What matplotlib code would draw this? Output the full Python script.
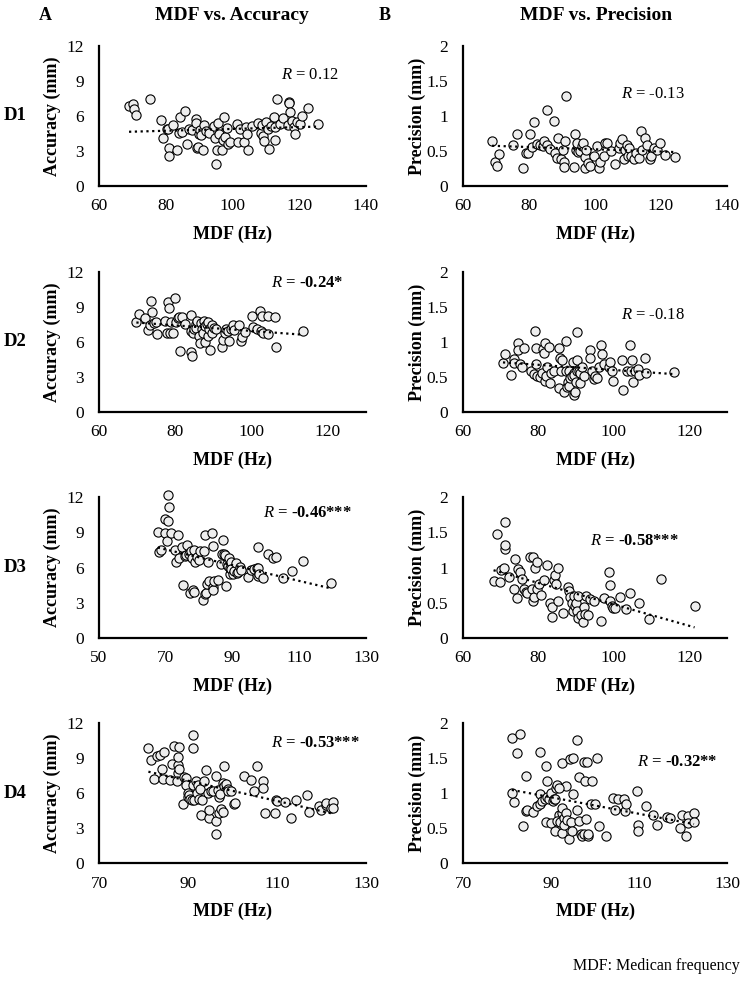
import matplotlib
matplotlib.use("Agg")
import matplotlib.pyplot as plt
import numpy as np

plt.rcParams['font.family'] = ['Liberation Serif', 'DejaVu Serif']
plt.rcParams['mathtext.fontset'] = 'custom'
plt.rcParams['mathtext.rm'] = 'Liberation Serif'
plt.rcParams['mathtext.it'] = 'Liberation Serif:italic'

# (MDF Hz, value)
d1_acc = [(69.0, 6.89), (70.1, 7.0), (70.4, 6.6), (71.1, 6.11), (75.2, 7.43), (78.6, 5.66), (79.3, 4.09),
          (80.3, 4.89), (80.8, 4.86), (81.0, 3.23), (81.1, 2.6), (82.1, 5.2), (83.4, 3.09), (84.1, 4.57),
          (84.4, 5.94), (84.9, 4.63), (85.9, 6.4), (86.3, 3.6), (87.0, 4.89), (88.0, 4.77), (89.0, 5.74),
          (89.0, 5.37), (89.3, 3.23), (89.7, 3.37), (90.1, 4.46), (90.4, 4.8), (90.6, 4.34), (91.1, 3.06),
          (91.6, 5.23), (92.1, 4.71), (93.1, 4.57), (94.4, 5.14), (94.7, 4.09), (95.2, 1.86), (95.4, 3.09),
          (95.7, 5.37), (96.0, 4.46), (97.0, 3.09), (97.2, 3.94), (97.6, 5.94), (97.8, 4.17), (98.3, 5.0),
          (98.8, 3.6), (99.3, 3.8), (101.3, 5.31), (101.7, 3.77), (102.1, 4.86), (103.4, 3.8), (103.9, 5.03),
          (104.4, 4.43), (104.6, 3.09), (105.9, 5.14), (107.5, 5.43), (108.5, 4.51), (108.7, 5.2),
          (109.1, 4.29), (109.3, 3.86), (110.1, 5.46), (110.6, 4.86), (110.9, 3.2), (111.6, 5.14),
          (112.3, 5.94), (112.6, 5.03), (112.8, 3.94), (113.4, 7.43), (114.2, 5.31), (115.2, 5.8),
          (116.5, 5.26), (116.9, 7.23), (117.0, 7.09), (117.2, 6.34), (117.7, 5.57), (118.3, 5.03),
          (118.8, 4.46), (119.3, 5.51), (120.3, 5.31), (120.8, 6.0), (122.7, 6.66), (125.6, 5.31)]

d1_prec = [(68.8, 0.65), (69.7, 0.34), (70.4, 0.29), (71.0, 0.46), (75.2, 0.58), (76.5, 0.75), (78.3, 0.26),
           (79.0, 0.47), (79.6, 0.47), (80.3, 0.75), (80.8, 0.56), (81.6, 0.91), (82.5, 0.6), (83.4, 0.59),
           (84.2, 0.57), (84.6, 0.64), (85.4, 1.09), (85.6, 0.58), (86.4, 0.53), (87.7, 0.93), (87.9, 0.47),
           (88.4, 0.4), (88.9, 0.68), (89.6, 0.39), (90.3, 0.52), (90.5, 0.34), (90.5, 0.27), (90.8, 0.64),
           (91.3, 1.28), (93.5, 0.27), (93.8, 0.75), (94.3, 0.52), (94.5, 0.62), (94.8, 0.48), (95.5, 0.5),
           (96.0, 0.57), (96.5, 0.62), (96.9, 0.42), (97.1, 0.26), (97.2, 0.52), (97.8, 0.33), (98.4, 0.28),
           (99.6, 0.43), (100.6, 0.57), (101.1, 0.26), (101.6, 0.34), (102.6, 0.43), (103.1, 0.61),
           (103.7, 0.62), (104.9, 0.5), (106.2, 0.31), (107.2, 0.54), (107.7, 0.62), (108.2, 0.67),
           (108.7, 0.38), (109.0, 0.52), (109.7, 0.59), (109.9, 0.43), (110.4, 0.54), (110.8, 0.43),
           (111.8, 0.39), (112.3, 0.47), (113.3, 0.4), (113.8, 0.79), (114.3, 0.52), (115.3, 0.69),
           (115.8, 0.58), (116.6, 0.38), (117.1, 0.43), (117.9, 0.55), (118.9, 0.52), (119.7, 0.62),
           (121.1, 0.45), (124.2, 0.42)]

d2_acc = [(69.8, 7.69), (70.5, 8.42), (72.0, 8.06), (72.8, 7.03), (73.5, 7.5), (73.7, 9.5), (73.9, 8.56),
          (74.5, 7.61), (74.9, 7.69), (75.3, 6.67), (77.3, 7.83), (77.7, 6.81), (78.1, 9.44), (78.4, 8.89),
          (78.5, 6.81), (78.9, 7.69), (79.4, 6.81), (79.8, 9.78), (80.2, 7.69), (80.6, 8.06), (80.9, 8.11),
          (81.2, 5.22), (81.7, 8.11), (82.5, 7.58), (84.0, 6.94), (84.2, 8.28), (84.2, 5.11), (84.4, 4.81),
          (84.7, 6.75), (84.8, 7.08), (85.3, 7.56), (85.4, 7.22), (85.8, 7.78), (86.3, 6.53), (86.5, 5.89),
          (86.7, 7.64), (86.9, 7.08), (87.2, 6.81), (87.4, 7.78), (87.8, 7.36), (87.9, 5.97), (88.2, 7.56),
          (88.5, 7.72), (88.6, 6.53), (88.8, 7.08), (89.0, 5.33), (89.5, 6.81), (89.7, 7.5), (90.1, 7.22),
          (90.7, 7.14), (92.2, 5.61), (92.4, 6.19), (93.0, 6.81), (93.2, 7.08), (93.7, 6.94), (94.1, 6.11),
          (94.5, 7.08), (95.1, 7.42), (95.4, 7.0), (96.8, 7.5), (97.2, 6.06), (97.5, 6.39), (98.3, 6.89),
          (100.2, 8.19), (100.4, 7.31), (101.4, 7.08), (102.3, 8.69), (102.5, 6.94), (102.8, 8.25),
          (103.1, 6.81), (104.4, 8.19), (104.4, 6.67), (106.1, 8.11), (106.3, 5.61), (113.6, 6.94)]

d2_prec = [(70.6, 0.7), (71.2, 0.83), (72.7, 0.53), (73.4, 0.76), (73.6, 0.7), (74.5, 0.99), (74.5, 0.89),
           (75.2, 0.69), (76.1, 0.92), (75.6, 0.64), (78.0, 0.59), (78.7, 0.55), (79.0, 1.16), (79.4, 0.68),
           (79.4, 0.91), (79.6, 0.52), (80.3, 0.5), (80.9, 0.56), (81.2, 0.9), (81.4, 0.85), (81.7, 0.44),
           (81.8, 0.99), (82.1, 0.52), (82.3, 0.64), (82.7, 0.93), (83.0, 0.42), (83.3, 0.56), (84.2, 0.58),
           (85.4, 0.91), (85.4, 0.34), (85.6, 0.77), (86.0, 0.58), (86.3, 0.74), (86.7, 0.29), (87.2, 1.02),
           (87.4, 0.58), (87.6, 0.36), (87.9, 0.43), (88.0, 0.37), (88.2, 0.58), (88.5, 0.49), (88.9, 0.51),
           (89.2, 0.71), (89.4, 0.56), (89.5, 0.25), (89.5, 0.53), (89.8, 0.29), (90.0, 0.43), (90.1, 0.59),
           (90.3, 0.74), (90.3, 1.15), (90.7, 0.59), (91.0, 0.42), (91.1, 0.56), (91.6, 0.64), (92.2, 0.51),
           (93.8, 0.89), (93.8, 0.77), (94.1, 0.59), (94.7, 0.47), (95.1, 0.52), (95.6, 0.49), (96.0, 0.64),
           (96.5, 0.96), (96.9, 0.83), (97.4, 0.69), (98.7, 0.64), (99.0, 0.71), (99.6, 0.59), (99.8, 0.44),
           (102.2, 0.74), (102.5, 0.31), (103.6, 0.58), (104.3, 0.96), (104.5, 0.58), (104.7, 0.74),
           (105.1, 0.43), (105.5, 0.58), (106.4, 0.62), (106.7, 0.53), (108.3, 0.77), (108.4, 0.56),
           (116.0, 0.57)]

d3_acc = [(70.6, 12.14), (70.9, 11.17), (69.9, 10.09), (70.8, 9.94), (67.6, 9.0), (68.1, 7.31), (68.6, 7.51),
          (69.9, 8.94), (70.3, 8.23), (71.6, 8.94), (72.8, 7.51), (73.2, 6.51), (73.8, 8.74), (74.0, 6.8),
          (75.0, 7.74), (75.3, 4.51), (75.8, 6.94), (76.0, 7.03), (76.5, 7.89), (77.0, 7.14), (77.3, 3.8),
          (77.7, 7.37), (77.9, 6.8), (78.2, 4.09), (78.4, 3.94), (78.6, 7.46), (78.9, 6.51), (79.4, 6.86),
          (79.9, 6.66), (80.4, 7.37), (81.1, 3.23), (81.4, 7.37), (81.9, 8.74), (81.9, 3.71), (82.2, 3.86),
          (82.4, 4.57), (82.6, 6.46), (83.0, 4.86), (84.0, 8.91), (84.3, 7.8), (84.3, 4.37), (84.3, 4.09),
          (84.6, 4.86), (85.6, 4.94), (86.5, 6.29), (86.8, 7.14), (87.1, 8.37), (87.5, 7.14), (87.7, 7.03),
          (88.2, 4.43), (88.5, 6.29), (88.7, 6.17), (88.9, 6.8), (89.2, 5.43), (89.2, 5.94), (89.5, 6.51),
          (89.7, 5.89), (90.2, 5.43), (90.5, 5.66), (91.0, 6.37), (91.2, 5.51), (91.7, 5.6), (92.2, 6.03),
          (92.6, 5.8), (94.6, 5.23), (95.4, 5.8), (96.4, 5.86), (97.4, 6.0), (97.5, 7.74), (97.5, 5.94),
          (97.5, 5.31), (98.0, 5.43), (99.0, 5.14), (100.5, 7.14), (102.0, 6.8), (102.9, 6.89),
          (105.2, 5.14), (107.8, 5.66), (111.0, 6.57), (119.6, 4.71)]

d3_prec = [(68.1, 0.81), (69.0, 1.47), (69.8, 0.8), (70.0, 0.96), (70.9, 0.99), (71.2, 1.26), (71.2, 1.32),
           (71.2, 1.64), (72.1, 0.86), (73.4, 0.69), (73.9, 1.12), (74.3, 0.57), (74.5, 0.98), (75.0, 0.93),
           (75.7, 0.84), (76.1, 0.7), (76.6, 0.65), (77.0, 0.64), (77.7, 1.15), (78.4, 0.7), (78.5, 0.53),
           (78.6, 1.15), (78.8, 0.58), (79.1, 1.0), (79.5, 0.7), (79.7, 1.08), (80.1, 0.77), (80.8, 0.61),
           (81.5, 0.82), (82.4, 1.03), (83.1, 0.5), (83.5, 0.44), (83.7, 0.3), (84.0, 0.82), (84.4, 0.89),
           (84.6, 0.77), (85.1, 1.0), (85.2, 0.53), (86.4, 0.35), (87.8, 0.72), (88.0, 0.66), (88.5, 0.58),
           (88.9, 0.5), (89.2, 0.39), (89.4, 0.6), (89.7, 0.45), (90.0, 0.5), (90.2, 0.39), (90.4, 0.28),
           (90.6, 0.6), (91.2, 0.33), (91.8, 0.23), (92.2, 0.44), (92.4, 0.34), (92.7, 0.6), (93.1, 0.32),
           (93.8, 0.56), (94.7, 0.53), (96.7, 0.24), (97.3, 0.57), (98.8, 0.93), (98.9, 0.75), (98.9, 0.53),
           (99.4, 0.46), (99.8, 0.42), (100.3, 0.43), (101.6, 0.58), (103.2, 0.41), (104.3, 0.64),
           (106.6, 0.5), (109.4, 0.27), (112.4, 0.84), (121.4, 0.45)]

d4_acc = [(81.1, 9.84), (86.8, 10.03), (88.0, 9.95), (91.1, 10.93), (91.1, 9.84), (81.6, 8.79), (83.0, 9.15),
          (83.7, 9.26), (84.6, 9.48), (82.4, 7.23), (84.1, 8.05), (84.4, 7.23), (85.9, 7.14), (86.3, 8.52),
          (87.8, 8.38), (87.8, 9.07), (87.8, 7.69), (88.0, 8.05), (87.6, 7.01), (89.0, 7.34), (89.5, 7.28),
          (89.6, 6.68), (88.9, 5.03), (90.0, 5.96), (90.0, 5.69), (90.2, 5.82), (90.4, 5.49), (91.0, 5.36),
          (91.1, 6.68), (91.3, 5.36), (91.9, 7.01), (92.0, 6.04), (92.2, 6.68), (92.4, 5.49), (92.7, 6.32),
          (93.2, 5.41), (93.6, 7.01), (93.0, 4.12), (94.1, 7.97), (94.4, 6.04), (94.8, 3.85), (94.8, 4.53),
          (95.2, 6.18), (95.7, 6.18), (96.3, 7.5), (96.3, 3.57), (96.4, 2.47), (96.7, 6.24), (96.9, 5.69),
          (96.9, 4.31), (97.2, 5.91), (97.4, 4.67), (97.8, 6.87), (97.9, 4.4), (98.1, 8.32), (98.1, 6.59),
          (98.5, 6.73), (98.9, 6.32), (99.1, 6.13), (99.6, 6.18), (100.4, 5.08), (100.5, 5.14),
          (102.6, 7.42), (104.1, 7.14), (104.8, 6.18), (105.6, 8.32), (106.8, 7.06), (106.8, 6.4),
          (107.4, 4.31), (109.6, 4.26), (109.8, 5.41), (110.0, 5.3), (111.7, 5.22), (113.2, 3.85),
          (114.2, 5.41), (116.7, 5.85), (117.2, 4.4), (119.4, 4.86), (120.0, 4.53), (121.0, 4.95),
          (121.1, 5.14), (122.2, 4.75), (122.6, 5.22), (122.6, 4.75)]

d4_prec = [(81.1, 1.78), (82.9, 1.84), (96.0, 1.76), (82.2, 1.57), (87.6, 1.58), (84.3, 1.25), (88.8, 1.38),
           (89.1, 1.17), (92.5, 1.43), (94.4, 1.48), (94.9, 1.5), (97.6, 1.45), (98.1, 1.45), (100.4, 1.5),
           (96.3, 1.23), (97.8, 1.17), (99.4, 1.17), (93.4, 1.1), (109.6, 1.03), (81.6, 0.87), (81.1, 1.0),
           (83.7, 0.53), (84.3, 0.74), (84.5, 0.76), (85.9, 0.73), (86.9, 0.81), (87.6, 0.84), (87.6, 0.98),
           (88.0, 0.88), (88.6, 0.92), (88.9, 0.58), (89.1, 0.95), (89.5, 0.91), (89.9, 1.0), (90.1, 0.57),
           (90.4, 0.88), (90.6, 0.91), (91.0, 0.91), (91.2, 1.07), (91.4, 1.12), (91.8, 1.07), (91.9, 0.69),
           (92.4, 0.72), (92.4, 0.79), (91.0, 0.46), (91.4, 0.6), (92.1, 0.58), (92.5, 0.43), (92.9, 0.65),
           (92.9, 0.55), (93.3, 0.72), (93.6, 0.61), (94.2, 0.34), (94.6, 0.58), (94.8, 0.46), (95.0, 0.99),
           (95.9, 0.76), (96.4, 0.6), (96.9, 0.41), (97.0, 0.39), (97.4, 0.41), (97.9, 0.63), (98.4, 0.39),
           (98.5, 0.41), (99.1, 0.84), (100.0, 0.85), (100.8, 0.53), (102.6, 0.39), (104.1, 0.93),
           (104.5, 0.76), (105.3, 0.91), (106.6, 0.91), (106.8, 0.74), (107.1, 0.85), (109.8, 0.55),
           (109.8, 0.46), (111.6, 0.81), (113.1, 0.68), (114.1, 0.55), (116.4, 0.66), (117.1, 0.65),
           (119.4, 0.5), (119.7, 0.68), (120.6, 0.39), (121.2, 0.67), (121.2, 0.57), (122.5, 0.72),
           (122.5, 0.58)]

r_text = ["0.12", "-0.13", "-0.24*", "-0.18", "-0.46***", "-0.58***", "-0.53***", "-0.32**"]
r_bold = [False, False, True, False, True, True, True, True]
row_names = ["D1", "D2", "D3", "D4"]
acc_ticks = [0, 3, 6, 9, 12]
prec_ticks = [0, 0.5, 1, 1.5, 2]
x_ranges = [(60, 140), (60, 130), (50, 130), (70, 130)]

data = [d1_acc, d1_prec, d2_acc, d2_prec, d3_acc, d3_prec, d4_acc, d4_prec]

# layout in pixels of the 748x983 picture
W, H = 748, 983
col_l = [99, 463]
col_r = [366, 727]
row_t = [46, 272, 497, 723]
row_b = [186, 412, 638, 863]
r_pos = [(0.79, 0.79), (0.72, 0.66), (0.78, 0.92), (0.72, 0.69),
         (0.78, 0.89), (0.65, 0.69), (0.81, 0.86), (0.81, 0.72)]

fig = plt.figure(figsize=(W / 100, H / 100), dpi=100)

for i, pts in enumerate(data):
    row, col = i // 2, i % 2
    ax = fig.add_axes([col_l[col] / W, 1 - row_b[row] / H,
                       (col_r[col] - col_l[col]) / W, (row_b[row] - row_t[row]) / H])
    x, y = np.array(pts).T
    ax.scatter(x, y, s=44, facecolor='#eeeeee', edgecolor='black', linewidth=0.8,
               zorder=2, clip_on=False)
    k, b = np.polyfit(x, y, 1)
    xs = np.array([x.min(), x.max()])
    ax.plot(xs, k * xs + b, color='black', lw=1.6, ls=(0, (1, 1.6)), zorder=3)

    x0, x1 = x_ranges[row]
    if col == 1 and row == 2:
        x0 = 60
    ax.set_xlim(x0, x1)
    ax.set_xticks(list(range(x0, x1 + 1, 20)))
    if col == 0:
        ax.set_ylim(0, 12)
        ax.set_yticks(acc_ticks)
        ax.set_yticklabels([str(t) for t in acc_ticks])
        ax.set_ylabel("Accuracy (mm)", fontsize=13, fontweight='bold')
    else:
        ax.set_ylim(0, 2)
        ax.set_yticks(prec_ticks)
        ax.set_yticklabels(["%g" % t for t in prec_ticks])
        ax.set_ylabel("Precision (mm)", fontsize=13, fontweight='bold')
    ax.yaxis.set_label_coords(-0.142, 0.5)
    ax.set_xlabel("MDF (Hz)", fontsize=13, fontweight='bold')
    ax.xaxis.set_label_coords(0.5, -0.28)

    for s in ['top', 'right']:
        ax.spines[s].set_visible(False)
    for s in ['left', 'bottom']:
        ax.spines[s].set_linewidth(1.6)
    ax.tick_params(length=0, labelsize=12.5)
    ax.tick_params(axis='y', pad=11)
    ax.tick_params(axis='x', pad=9)
    ax.set_facecolor('none')

    ax.text(r_pos[i][0], r_pos[i][1], "$R$ = " + r_text[i], transform=ax.transAxes,
            ha='center', va='center', fontsize=12,
            fontweight='bold' if r_bold[i] else 'normal')

    if col == 0:
        fig.text(4 / W, 1 - (row_t[row] + row_b[row]) / 2 / H, row_names[row],
                 ha='left', va='center', fontsize=13.5, fontweight='bold')

fig.text(232 / W, 1 - 15 / H, "MDF vs. Accuracy", ha='center', va='center', fontsize=14, fontweight='bold')
fig.text(596 / W, 1 - 15 / H, "MDF vs. Precision", ha='center', va='center', fontsize=14, fontweight='bold')
fig.text(45 / W, 1 - 15 / H, "A", ha='center', va='center', fontsize=13, fontweight='bold')
fig.text(385 / W, 1 - 15 / H, "B", ha='center', va='center', fontsize=13, fontweight='bold')
fig.text(740 / W, 1 - 966 / H, "MDF: Medican frequency", ha='right', va='center', fontsize=11.5)

fig.savefig("out.png", dpi=100)
